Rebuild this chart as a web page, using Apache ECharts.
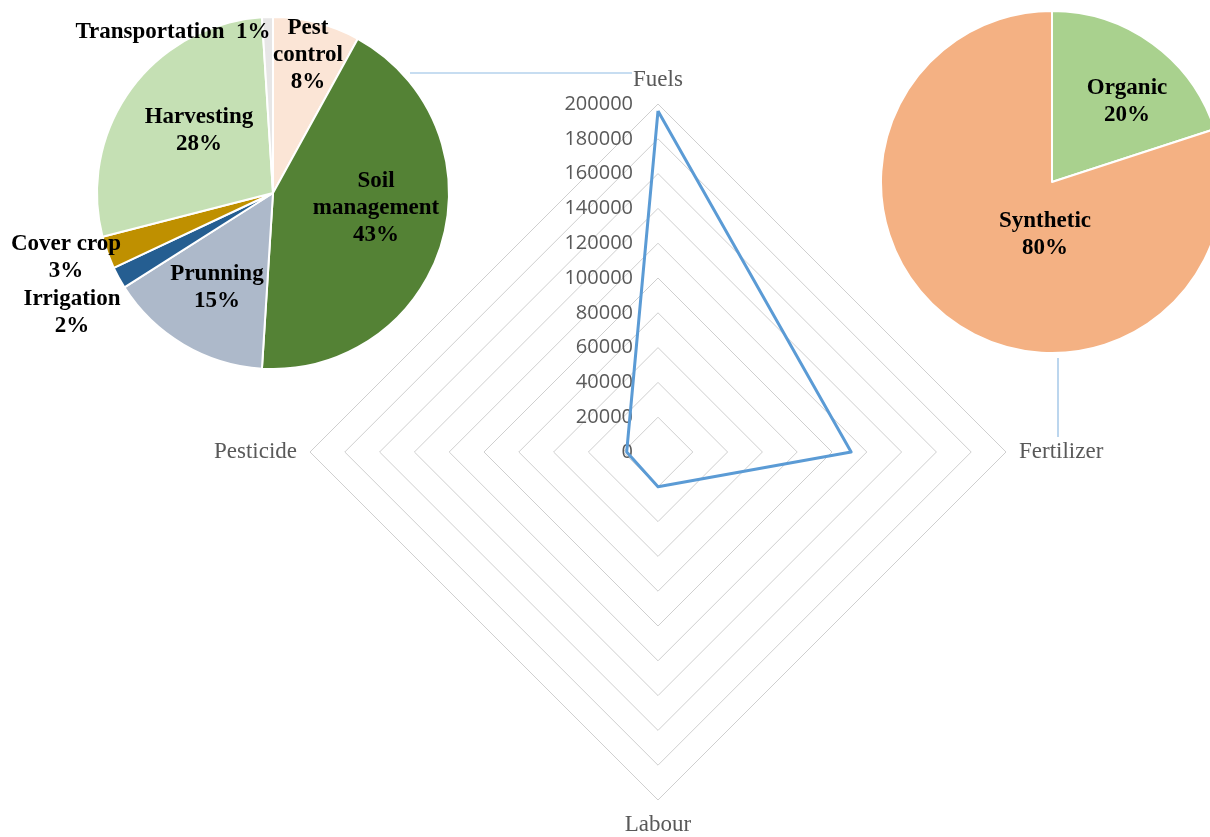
<!DOCTYPE html>
<html>
<head>
<meta charset="utf-8">
<script src="https://cdn.jsdelivr.net/npm/echarts@6/dist/echarts.min.js"></script>
<style>
  html, body { margin: 0; padding: 0; background: #fff; }
  #chart { width: 1210px; height: 837px; }
</style>
</head>
<body>
<div id="chart"></div>
<script>
// Energy inputs by source (radar), clockwise from the top
const radarAxes = ['Fuels', 'Fertilizer', 'Labour', 'Pesticide'];
const radarValues = [196000, 111000, 20000, 18000];
const radarMax = 200000;
const radarStep = 20000;

// Fuel use by operation (%), clockwise from 12 o'clock
const fuelOps = ['Pest control', 'Soil management', 'Prunning', 'Irrigation', 'Cover crop', 'Harvesting', 'Transportation'];
const fuelShares = [8, 43, 15, 2, 3, 28, 1];

// Fertilizer by type (%)
const fertTypes = ['Organic', 'Synthetic'];
const fertShares = [20, 80];

// ---- layout & style ----
const radarCenter = [658, 452];
const radarRadius = 348;
const leftPie = { c: [273, 193], r: 176 };
const rightPie = { c: [1052, 182], r: 171 };

const fuelColors = ['#FBE5D6', '#548235', '#ADB9CA', '#255E91', '#BF9000', '#C5E0B4', '#E7E6E6'];
const fertColors = ['#A9D18E', '#F4B183'];

// label anchors (centre of text block) and line breaking for the pie labels
const fuelLabelPos = [[308, 55], [376, 208], [217, 288], [72, 313], [66, 258], [199, 131], [173, 32]];
const fuelLabelText = {
  'Pest control': 'Pest\ncontrol\n{v}',
  'Soil management': 'Soil\nmanagement\n{v}',
  'Transportation': 'Transportation  {v}'
};
const fertLabelPos = [[1127, 102], [1045, 235]];

const serif = 'Liberation Serif, Times New Roman, serif';
const labelBase = {
  show: true,
  position: 'inside',
  fontFamily: serif,
  fontWeight: 'bold',
  fontSize: 23,
  lineHeight: 27,
  color: '#000',
  align: 'center'
};

function pieLabel(name, value) {
  const tpl = fuelLabelText[name] || name + '\n{v}';
  return tpl.replace('{v}', value + '%');
}

// ECharts lays radar axes counter-clockwise from startAngle
const drawOrder = [0, 3, 2, 1];
const indicators = drawOrder.map(i => ({ name: radarAxes[i], min: 0, max: radarMax }));
const orderedValues = drawOrder.map(i => radarValues[i]);

const chart = echarts.init(document.getElementById('chart'));
chart.setOption({
  backgroundColor: '#fff',
  animation: false,
  radar: {
    center: radarCenter,
    radius: radarRadius,
    startAngle: 90,
    shape: 'polygon',
    splitNumber: radarMax / radarStep,
    indicator: indicators,
    nameGap: 13,
    axisName: { color: '#595959', fontFamily: serif, fontSize: 23 },
    splitLine: { lineStyle: { color: '#cfcfcf', width: 1 } },
    splitArea: { show: false },
    axisLine: { show: false },
    axisTick: { show: false },
    axisLabel: { show: false }
  },
  // value scale printed along the Fuels axis
  grid: { left: radarCenter[0], top: radarCenter[1] - radarRadius, width: 1, height: radarRadius },
  xAxis: { type: 'value', show: false },
  yAxis: {
    type: 'value', min: 0, max: radarMax, interval: radarStep,
    axisLine: { show: false }, axisTick: { show: false }, splitLine: { show: false },
    axisLabel: { margin: 25, color: '#595959', fontFamily: 'Open Sans', fontSize: 20, formatter: v => String(v) }
  },
  series: [
    {
      type: 'radar',
      silent: true,
      symbol: 'none',
      lineStyle: { color: '#5B9BD5', width: 3 },
      data: [{ value: orderedValues, name: 'Energy' }]
    },
    {
      type: 'pie',
      silent: true,
      center: leftPie.c,
      radius: leftPie.r,
      startAngle: 90,
      itemStyle: { borderColor: '#fff', borderWidth: 2 },
      label: Object.assign({}, labelBase, { formatter: p => pieLabel(p.name, p.value) }),
      labelLine: { show: false },
      labelLayout: p => ({ x: fuelLabelPos[p.dataIndex][0], y: fuelLabelPos[p.dataIndex][1], align: 'center', verticalAlign: 'middle' }),
      data: fuelOps.map((n, i) => ({ name: n, value: fuelShares[i], itemStyle: { color: fuelColors[i] } }))
    },
    {
      type: 'pie',
      silent: true,
      center: rightPie.c,
      radius: rightPie.r,
      startAngle: 90,
      itemStyle: { borderColor: '#fff', borderWidth: 2 },
      label: Object.assign({}, labelBase, { formatter: p => p.name + '\n' + p.value + '%' }),
      labelLine: { show: false },
      labelLayout: p => ({ x: fertLabelPos[p.dataIndex][0], y: fertLabelPos[p.dataIndex][1], align: 'center', verticalAlign: 'middle' }),
      data: fertTypes.map((n, i) => ({ name: n, value: fertShares[i], itemStyle: { color: fertColors[i] } }))
    }
  ],
  // connectors from the pies to the radar axes they break down
  graphic: [
    {
      type: 'line', silent: true,
      shape: { x1: 410, y1: 73, x2: 632, y2: 73 },
      style: { stroke: '#8FBBE3', lineWidth: 1.2 }
    },
    {
      type: 'line', silent: true,
      shape: { x1: 1058, y1: rightPie.c[1] + rightPie.r + 5, x2: 1058, y2: 437 },
      style: { stroke: '#8FBBE3', lineWidth: 1.2 }
    }
  ]
});
</script>
</body>
</html>
